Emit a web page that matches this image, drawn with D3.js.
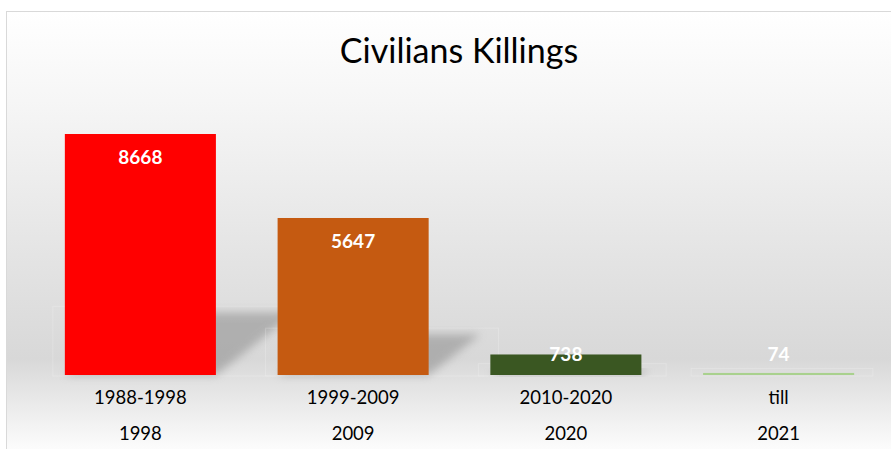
<!DOCTYPE html>
<html><head><meta charset="utf-8">
<script src="https://cdn.jsdelivr.net/npm/d3@7"></script>
<style>html,body{margin:0;padding:0;background:#fff;overflow:hidden}</style>
</head><body>
<svg id="c" width="891" height="449"></svg>
<script>
const categories = [["1988-1998","1998"],["1999-2009","2009"],["2010-2020","2020"],["till","2021"]];
const values = [8668, 5647, 738, 74];
const colors = ["#FF0000", "#C55A11", "#3A5722", "#A9D18E"];
const title = "Civilians Killings";

const svg = d3.select("#c");
const defs = svg.append("defs");
const g = defs.append("linearGradient").attr("id","bg").attr("x1",0).attr("y1",0).attr("x2",0).attr("y2",1);
g.append("stop").attr("offset","0%").attr("stop-color","#ffffff");
g.append("stop").attr("offset","20%").attr("stop-color","#f6f6f6");
g.append("stop").attr("offset","78%").attr("stop-color","#d8d8d8");
g.append("stop").attr("offset","100%").attr("stop-color","#ffffff");
const f = defs.append("filter").attr("id","blur").attr("x","-20%").attr("y","-20%").attr("width","140%").attr("height","140%");
f.append("feGaussianBlur").attr("stdDeviation",4);

svg.append("rect").attr("x",6.5).attr("y",11.5).attr("width",900).attr("height",445)
  .attr("fill","url(#bg)").attr("stroke","#d9d9d9").attr("stroke-width",1);

svg.append("text").attr("x",459).attr("y",63).attr("text-anchor","middle")
  .attr("font-family","Lato, 'Open Sans', sans-serif").attr("font-size",34).attr("fill","#000")
  .text(title);

const x = d3.scaleBand().domain(d3.range(values.length)).range([34, 885]).paddingInner(0.29).paddingOuter(0.145);
const base = 375;
const y = d3.scaleLinear().domain([0, 8668]).range([base, 134]);

// perspective shadows
const sh = svg.append("g");
values.forEach((v,i)=>{
  const h = base - y(v);
  const hh = h*0.26, dx = hh*1.27;
  const x0 = x(i), x1 = x(i)+x.bandwidth();
  sh.append("rect").attr("x", x0-12).attr("y", base-hh-6).attr("width", x1-x0+dx+30).attr("height", hh+7)
    .attr("fill","none").attr("stroke","rgba(255,255,255,0.2)").attr("stroke-width",1);
  sh.append("path").attr("d", `M${x0},${base} L${x1},${base} L${x1+dx},${base-hh} L${x0+dx},${base-hh} Z`)
    .attr("fill","#8c8c8c").attr("opacity",0.55).attr("filter","url(#blur)");
});

svg.append("g").selectAll("rect").data(values).join("rect")
  .attr("x",(d,i)=>x(i)).attr("width",x.bandwidth())
  .attr("y",d=>y(d)).attr("height",d=>base-y(d))
  .attr("fill",(d,i)=>colors[i]);

svg.append("g").selectAll("text").data(values).join("text")
  .attr("x",(d,i)=>x(i)+x.bandwidth()/2)
  .attr("y",d=>Math.min(y(d)+30, 361))
  .attr("text-anchor","middle").attr("font-family","Lato, sans-serif").attr("font-weight","bold")
  .attr("font-size",19).attr("fill","#fff").text(d=>d);

const lab = svg.append("g").attr("font-family","Lato, sans-serif").attr("font-size",18.5).attr("fill","#000").attr("text-anchor","middle");
categories.forEach((c,i)=>{
  const cx = x(i)+x.bandwidth()/2;
  lab.append("text").attr("x",cx).attr("y",404).text(c[0]);
  lab.append("text").attr("x",cx).attr("y",440).text(c[1]);
});
</script>
</body></html>
